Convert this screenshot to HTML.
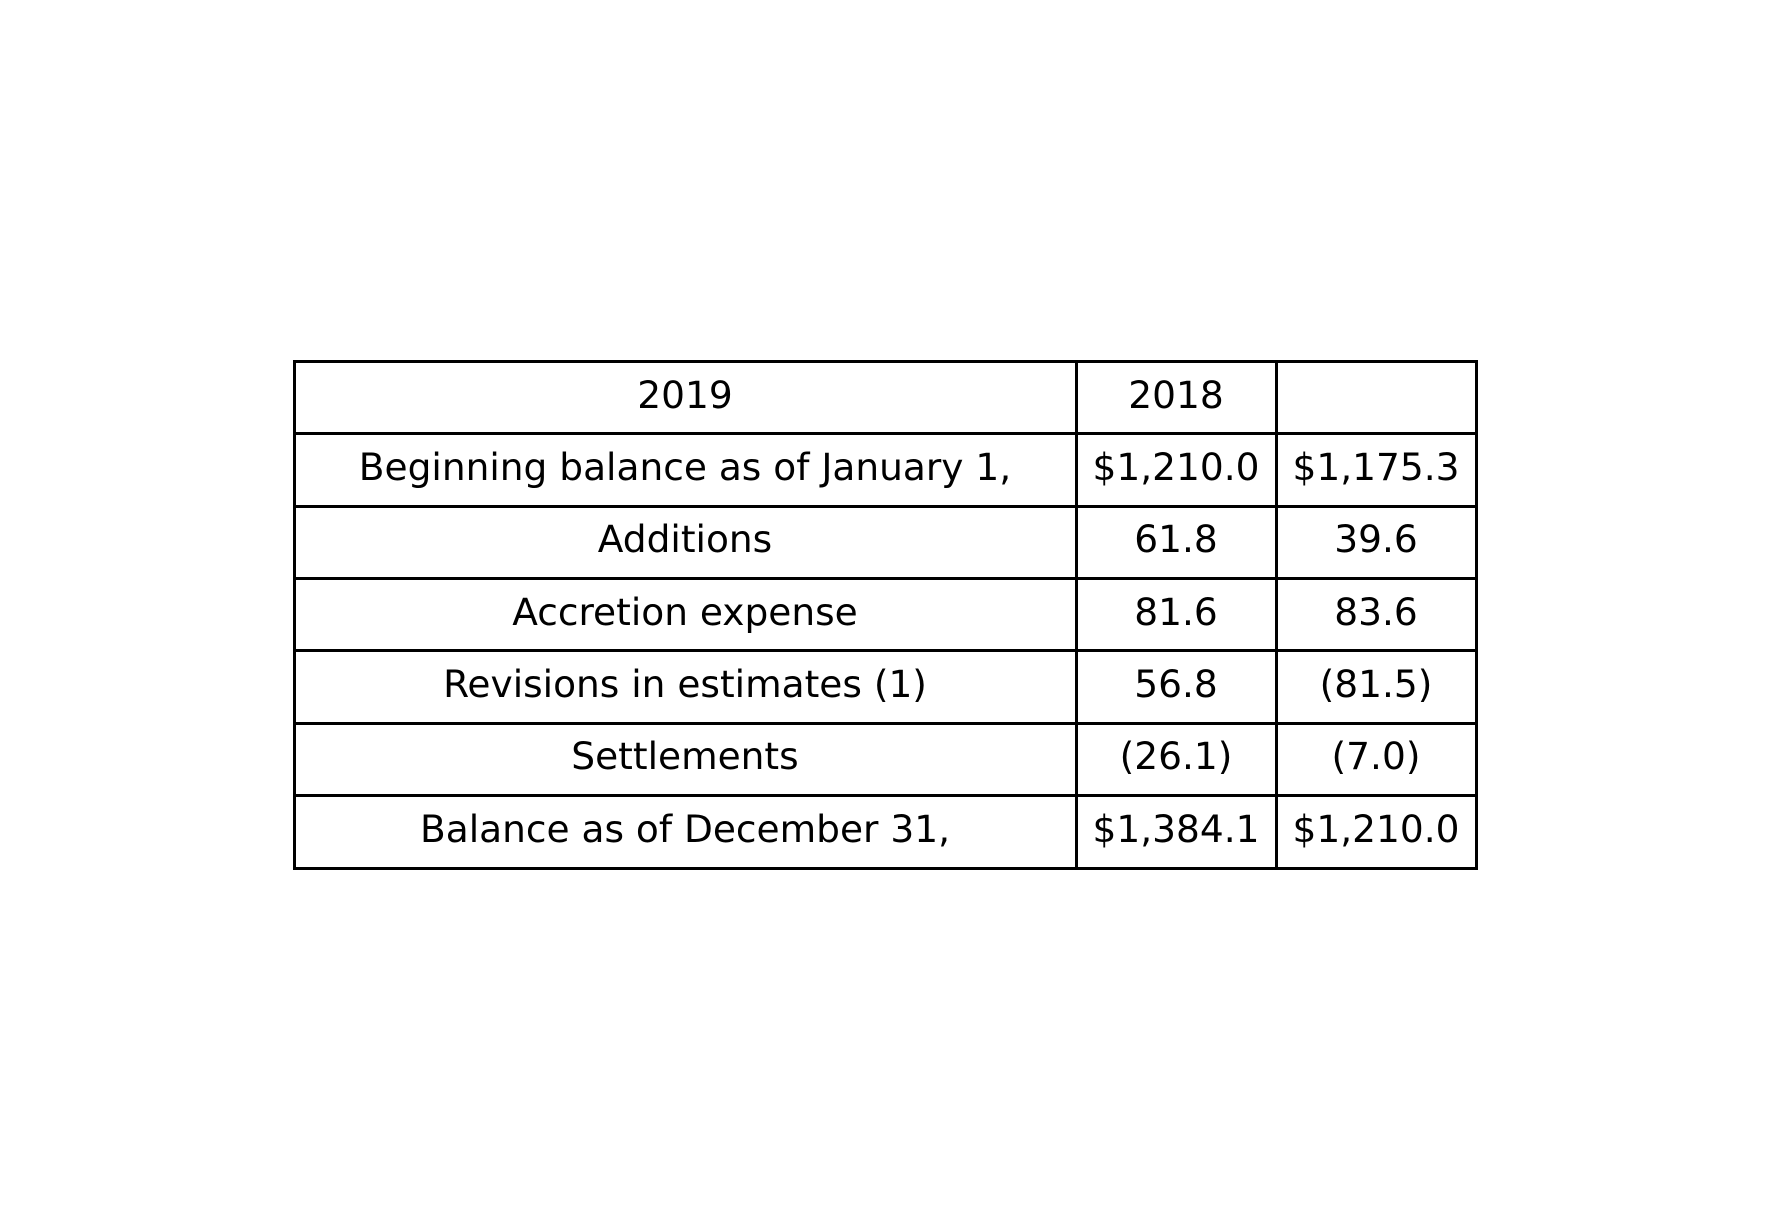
<!DOCTYPE html>
<html><head><meta charset="utf-8"><style>
body{margin:0;width:1770px;height:1230px;background:#fff;position:relative;overflow:hidden;font-family:"DejaVu Sans","Liberation Sans",sans-serif;}
.c{position:absolute;display:flex;align-items:center;justify-content:center;font-size:37.5px;color:#000;padding-bottom:6px;box-sizing:border-box;white-space:nowrap;}
.l{position:absolute;background:#000;}
</style></head><body>
<div id="tbl"></div>
<script>
const rowLabels=["2019","Beginning balance as of January 1,","Additions","Accretion expense","Revisions in estimates (1)","Settlements","Balance as of December 31,"];
const col2019=["2018","$1,210.0","61.8","81.6","56.8","(26.1)","$1,384.1"];
const col2018=["","$1,175.3","39.6","83.6","(81.5)","(7.0)","$1,210.0"];
const xs=[294,1076,1276,1476];
const top0=361.5, bottom0=868;
const lw=3;
const rh=(bottom0-top0)/rowLabels.length;
const t=document.getElementById('tbl');
const cols=[rowLabels,col2019,col2018];
for(let r=0;r<rowLabels.length;r++){
  for(let c=0;c<3;c++){
    const d=document.createElement('div');
    d.className='c';
    d.style.left=xs[c]+'px';
    d.style.top=(top0+r*rh)+'px';
    d.style.width=(xs[c+1]-xs[c])+'px';
    d.style.height=rh+'px';
    d.textContent=cols[c][r];
    
    
    t.appendChild(d);
  }
}
for(let r=0;r<=rowLabels.length;r++){
  const h=document.createElement('div');
  h.className='l';
  h.style.left=(xs[0]-lw/2)+'px';
  h.style.width=(xs[3]-xs[0]+lw)+'px';
  h.style.top=Math.round(top0+r*rh-lw/2)+'px';
  h.style.height=lw+'px';
  
  
  t.appendChild(h);
}
for(let c=0;c<xs.length;c++){
  const v=document.createElement('div');
  v.className='l';
  v.style.left=Math.round(xs[c]-lw/2)+'px';
  v.style.width=lw+'px';
  v.style.top=(top0-lw/2)+'px';
  v.style.height=(bottom0-top0+lw)+'px';
  
  
  t.appendChild(v);
}
</script>
</body></html>
